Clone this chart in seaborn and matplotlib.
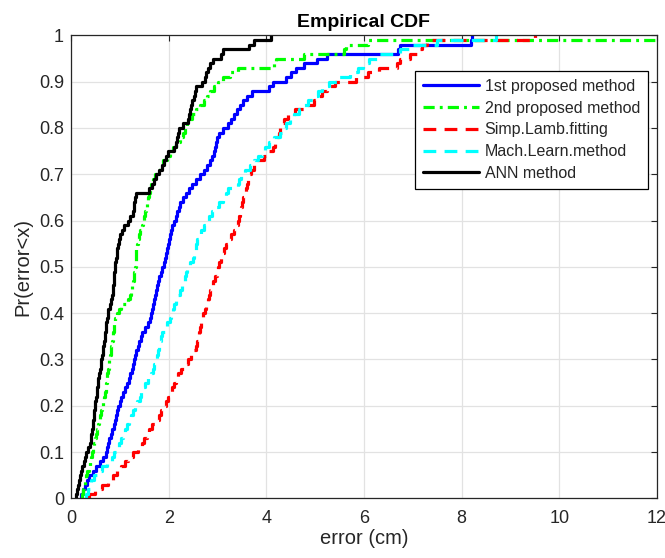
import matplotlib
matplotlib.use("Agg")
import matplotlib.pyplot as plt
import seaborn as sns

# errors (cm), 100 sorted samples per method
ERR_1ST = [0.20, 0.25, 0.29, 0.33, 0.37, 0.44, 0.52, 0.60, 0.66, 0.71,
           0.73, 0.76, 0.78, 0.81, 0.84, 0.88, 0.91, 0.93, 0.95, 0.97,
           1.00, 1.03, 1.06, 1.10, 1.14, 1.18, 1.21, 1.25, 1.27, 1.30,
           1.32, 1.34, 1.37, 1.40, 1.43, 1.46, 1.51, 1.58, 1.62, 1.64,
           1.66, 1.68, 1.70, 1.72, 1.74, 1.76, 1.78, 1.81, 1.84, 1.87,
           1.90, 1.92, 1.94, 1.97, 1.99, 2.01, 2.03, 2.05, 2.07, 2.10,
           2.14, 2.17, 2.21, 2.24, 2.30, 2.35, 2.41, 2.47, 2.55, 2.64,
           2.72, 2.78, 2.84, 2.89, 2.92, 2.95, 2.97, 3.00, 3.04, 3.12,
           3.21, 3.27, 3.33, 3.40, 3.46, 3.53, 3.60, 3.70, 4.05, 4.14,
           4.40, 4.50, 4.60, 4.78, 5.03, 5.24, 6.70, 6.74, 8.20, 8.21]
ERR_2ND = [0.23, 0.25, 0.26, 0.28, 0.30, 0.33, 0.36, 0.38, 0.40, 0.42,
           0.45, 0.47, 0.49, 0.51, 0.53, 0.55, 0.58, 0.60, 0.62, 0.64,
           0.66, 0.68, 0.69, 0.71, 0.72, 0.73, 0.74, 0.76, 0.77, 0.78,
           0.80, 0.81, 0.82, 0.84, 0.85, 0.87, 0.88, 0.89, 0.91, 0.94,
           0.98, 1.03, 1.17, 1.20, 1.22, 1.25, 1.27, 1.29, 1.30, 1.32,
           1.33, 1.33, 1.34, 1.34, 1.35, 1.38, 1.40, 1.42, 1.45, 1.47,
           1.49, 1.52, 1.54, 1.56, 1.58, 1.60, 1.62, 1.64, 1.67, 1.71,
           1.77, 1.83, 1.89, 1.96, 2.02, 2.09, 2.16, 2.23, 2.29, 2.34,
           2.38, 2.42, 2.48, 2.55, 2.64, 2.72, 2.78, 2.85, 2.92, 3.02,
           3.11, 3.25, 3.42, 4.16, 4.20, 4.78, 5.60, 5.64, 6.09, 13.0]
ERR_LAMB = [0.36, 0.50, 0.63, 0.76, 0.86, 0.95, 1.03, 1.10, 1.17, 1.27,
            1.37, 1.45, 1.50, 1.55, 1.59, 1.66, 1.74, 1.80, 1.85, 1.90,
            1.94, 1.98, 2.02, 2.06, 2.10, 2.15, 2.19, 2.26, 2.33, 2.40,
            2.45, 2.50, 2.55, 2.58, 2.61, 2.63, 2.65, 2.67, 2.69, 2.71,
            2.74, 2.77, 2.80, 2.82, 2.85, 2.88, 2.91, 2.94, 2.98, 3.01,
            3.04, 3.07, 3.11, 3.14, 3.18, 3.23, 3.28, 3.33, 3.40, 3.43,
            3.45, 3.46, 3.48, 3.50, 3.53, 3.56, 3.59, 3.61, 3.63, 3.65,
            3.68, 3.75, 3.81, 3.96, 4.05, 4.14, 4.18, 4.22, 4.26, 4.29,
            4.33, 4.37, 4.45, 4.58, 4.79, 4.98, 5.07, 5.15, 5.25, 5.40,
            5.84, 6.08, 6.30, 6.68, 6.74, 6.95, 7.10, 7.18, 7.30, 9.50]
ERR_ML = [0.30, 0.34, 0.38, 0.41, 0.48, 0.55, 0.64, 0.74, 0.83, 0.88,
          0.94, 0.99, 1.03, 1.07, 1.10, 1.15, 1.19, 1.22, 1.26, 1.31,
          1.36, 1.41, 1.44, 1.48, 1.52, 1.58, 1.63, 1.67, 1.70, 1.73,
          1.76, 1.78, 1.80, 1.82, 1.84, 1.86, 1.92, 1.97, 2.02, 2.05,
          2.08, 2.11, 2.15, 2.19, 2.24, 2.27, 2.30, 2.33, 2.35, 2.38,
          2.44, 2.50, 2.52, 2.55, 2.57, 2.59, 2.62, 2.67, 2.72, 2.77,
          2.83, 2.89, 2.97, 3.04, 3.11, 3.17, 3.22, 3.42, 3.45, 3.48,
          3.56, 3.67, 3.75, 3.83, 3.91, 3.98, 4.05, 4.15, 4.28, 4.35,
          4.41, 4.48, 4.57, 4.66, 4.76, 4.86, 4.95, 5.05, 5.14, 5.28,
          5.45, 5.72, 5.88, 5.98, 6.10, 6.31, 6.74, 6.95, 7.50, 8.70]
ERR_ANN = [0.10, 0.13, 0.15, 0.17, 0.19, 0.21, 0.23, 0.26, 0.28, 0.31,
           0.35, 0.38, 0.40, 0.41, 0.42, 0.44, 0.45, 0.47, 0.48, 0.49,
           0.50, 0.52, 0.53, 0.54, 0.55, 0.56, 0.58, 0.59, 0.61, 0.62,
           0.63, 0.65, 0.66, 0.68, 0.69, 0.70, 0.71, 0.72, 0.74, 0.75,
           0.76, 0.79, 0.82, 0.84, 0.85, 0.87, 0.88, 0.88, 0.89, 0.90,
           0.91, 0.93, 0.94, 0.95, 0.97, 0.99, 1.01, 1.04, 1.08, 1.17,
           1.21, 1.26, 1.28, 1.30, 1.32, 1.34, 1.60, 1.65, 1.69, 1.75,
           1.81, 1.87, 1.91, 1.95, 1.98, 2.10, 2.14, 2.17, 2.19, 2.22,
           2.29, 2.39, 2.42, 2.44, 2.46, 2.47, 2.51, 2.53, 2.56, 2.68,
           2.74, 2.77, 2.80, 2.85, 2.90, 3.08, 3.12, 3.64, 3.75, 4.10]

METHODS = ["1st proposed method", "2nd proposed method", "Simp.Lamb.fitting",
           "Mach.Learn.method", "ANN method"]
SAMPLES = [ERR_1ST, ERR_2ND, ERR_LAMB, ERR_ML, ERR_ANN]
COLORS = ["#0000ff", "#00ff00", "#ff0000", "#00ffff", "#000000"]
STYLES = ["-", (0, (3.5, 1.6, 0.9, 1.6)), (0, (4, 2.6)), (0, (4, 2.6)), "-"]

YTICKS = [0, 0.1, 0.2, 0.3, 0.4, 0.5, 0.6, 0.7, 0.8, 0.9, 1]
YTICK_LABELS = ["0", "0.1", "0.2", "0.3", "0.4", "0.5", "0.6", "0.7", "0.8", "0.9", "1"]
XTICKS = [0, 2, 4, 6, 8, 10, 12]

sns.set_theme(style="whitegrid")
plt.rcParams["font.family"] = ["Liberation Sans", "DejaVu Sans"]

AX_COL = "#262626"

fig = plt.figure(figsize=(6.65, 5.58), dpi=100)
ax = fig.add_axes([0.1068, 0.1068, 0.881, 0.8298])
ax.set_facecolor("white")

for name, errs, col, ls in zip(METHODS, SAMPLES, COLORS, STYLES):
    sns.ecdfplot(x=errs, ax=ax, color=col, linestyle=ls, linewidth=2.3, label=name)

ax.set_xlim(0, 12)
ax.set_ylim(0, 1)
ax.set_xticks(XTICKS)
ax.set_yticks(YTICKS)
ax.set_yticklabels(YTICK_LABELS)
ax.grid(True, color="#e2e2e2", linewidth=0.9)
for s in ax.spines.values():
    s.set_visible(True)
    s.set_color(AX_COL)
    s.set_linewidth(0.9)
ax.tick_params(direction="in", top=True, right=True, length=4.5, width=0.8,
               color=AX_COL, labelsize=13, labelcolor=AX_COL)
ax.tick_params(axis="x", pad=8)
ax.tick_params(axis="y", pad=5)

ax.set_xlabel("error (cm)", fontsize=14.5, color=AX_COL, labelpad=2)
ax.set_ylabel("Pr(error<x)", fontsize=14.5, color=AX_COL, labelpad=5)
ax.set_title("Empirical CDF", fontsize=14, fontweight="bold", color="black", pad=6)

leg = ax.legend(loc="upper right", bbox_to_anchor=(0.985, 0.923), borderaxespad=0,
                fontsize=11.5, fancybox=False, framealpha=1, edgecolor="black",
                handlelength=3.5, handletextpad=0.35, labelspacing=0.42,
                borderpad=0.5)
leg.get_frame().set_linewidth(0.9)
for t in leg.get_texts():
    t.set_color(AX_COL)

fig.savefig("out.png", dpi=100)
